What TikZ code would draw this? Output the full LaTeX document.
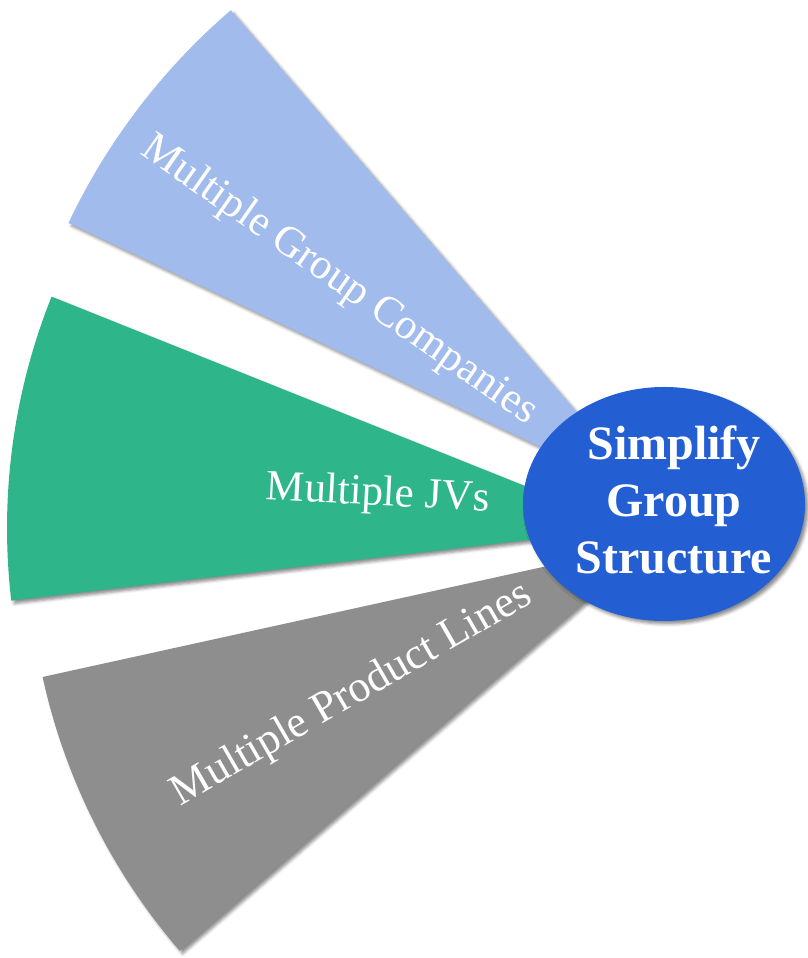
\documentclass[tikz,border=0pt]{standalone}
\usepackage{fontspec}
\setmainfont{Liberation Serif}
\usepackage{xcolor}
\usepackage{tikz}
\usetikzlibrary{shadows.blur}
\definecolor{sky}{HTML}{A0BBEC}
\definecolor{jade}{HTML}{2EB68A}
\definecolor{slate}{HTML}{8E8E8E}
\definecolor{royal}{HTML}{235FD3}
\tikzset{
  soft/.style={blur shadow={shadow xshift=3pt, shadow yshift=-3pt, shadow blur radius=3pt, shadow opacity=45}},
  wedge/.style={soft},
  hub/.style={fill=royal, soft},
  lab/.style={text=white, font=\fontsize{43}{50}\selectfont, inner sep=0pt},
  labb/.style={text=white, font=\fontsize{48}{57}\selectfont\bfseries, align=center, inner sep=0pt},
}

\begin{document}
\begin{tikzpicture}[x=1pt, y=1pt]
  \useasboundingbox (0,0) rectangle (808,958);

  % three fan slices, each with its own apex under the hub
  \coordinate (Ab) at (652,458);
  \coordinate (Ag) at (630,430);
  \coordinate (As) at (652,415);

  \fill[sky, wedge] (Ab) -- ++(130.7:646) arc (130.7:154.6:646) -- cycle;
  \fill[jade, wedge] (Ag) -- ++(158.2:623) arc (158.2:186.7:623) -- cycle;
  \fill[slate, wedge] (As) -- ++(192.4:624) arc (192.4:220.8:624) -- cycle;

  \node[lab, rotate=-35] (comp) at (339,677) {Multiple Group Companies};
  \node[lab, rotate=-3] (jv) at (378,463) {Multiple JVs};
  \node[lab, rotate=30, font=\fontsize{44}{50}\selectfont] (prod) at (352,263) {Multiple Product Lines};

  % the hub in front
  \fill[hub] (664,454) ellipse [x radius=141, y radius=117];
  \node[labb] (hub) at (674,458) {Simplify\\Group\\Structure};
\end{tikzpicture}
\end{document}
